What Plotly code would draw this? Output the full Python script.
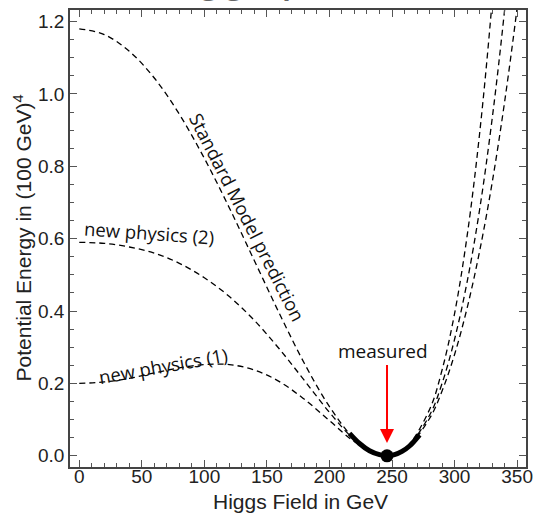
import plotly.graph_objects as go

# ---- data ----
sm_phi = [0, 20, 40, 60, 80, 100, 120, 140, 160, 180, 200, 220, 240, 246, 260, 280, 290, 300, 310, 320, 330, 340, 350, 357]
sm_V = [1.180, 1.164, 1.118, 1.044, 0.944, 0.822, 0.685, 0.539, 0.393, 0.255, 0.136, 0.047, 0.003, 0.0, 0.016, 0.103, 0.179, 0.280, 0.408, 0.565, 0.754, 0.978, 1.238, 1.443]

np2_phi = [0, 20, 40, 60, 80, 100, 120, 140, 160, 180, 200, 220, 240, 246, 260, 280, 290, 300, 310, 320, 330, 340, 350]
np2_V = [0.590, 0.587, 0.577, 0.560, 0.532, 0.492, 0.440, 0.374, 0.295, 0.208, 0.120, 0.045, 0.003, 0.0, 0.017, 0.112, 0.200, 0.322, 0.480, 0.680, 0.930, 1.232, 1.590]

np1_phi = [0, 20, 40, 60, 80, 100, 120, 140, 160, 180, 200, 220, 240, 246, 260, 280, 290, 300, 310, 320, 330, 340]
np1_V = [0.200, 0.204, 0.214, 0.229, 0.243, 0.252, 0.252, 0.237, 0.205, 0.156, 0.097, 0.039, 0.003, 0.0, 0.018, 0.128, 0.237, 0.393, 0.607, 0.890, 1.255, 1.717]

meas_phi = [216, 224, 232, 240, 246, 252, 258, 264, 272]
meas_V = [0.062, 0.034, 0.014, 0.003, 0.0, 0.003, 0.012, 0.027, 0.058]

vev_phi = [246]
vev_V = [0.0]

x_ticks = [0, 50, 100, 150, 200, 250, 300, 350]
y_ticks = [0.0, 0.2, 0.4, 0.6, 0.8, 1.0, 1.2]

AX_FONT = "Liberation Sans, Arial, sans-serif"
LBL_FONT = "Open Sans, Noto Sans, sans-serif"

fig = go.Figure()
dash_line = dict(color="black", width=1.3, dash="6px,4px", shape="spline")
for xs, ys in [(sm_phi, sm_V), (np2_phi, np2_V), (np1_phi, np1_V)]:
    fig.add_trace(go.Scatter(x=xs, y=ys, mode="lines", line=dash_line,
                             hoverinfo="skip", showlegend=False))

fig.add_trace(go.Scatter(x=meas_phi, y=meas_V, mode="lines",
                         line=dict(color="black", width=5, shape="spline"),
                         showlegend=False))
fig.add_trace(go.Scatter(x=vev_phi, y=vev_V, mode="markers",
                         marker=dict(color="black", size=13),
                         showlegend=False, cliponaxis=False))

axis_common = dict(
    showgrid=False, zeroline=False, showline=True, linecolor="#444", linewidth=1.5,
    mirror="ticks", ticks="inside", ticklen=7, tickwidth=1, tickcolor="#555",
    tickfont=dict(family=AX_FONT, size=19, color="#222"), automargin=False,
)

fig.update_xaxes(range=[-7.4, 357.1], tickvals=x_ticks, ticklabelstandoff=-9,
                 minor=dict(dtick=10, ticks="inside", ticklen=4, tickcolor="#555", tickwidth=1),
                 **axis_common)
fig.update_yaxes(range=[-0.031, 1.232], tickvals=y_ticks, tickformat=".1f",
                 minor=dict(dtick=0.05, ticks="inside", ticklen=4, tickcolor="#555", tickwidth=1),
                 **axis_common)

annots = [
    dict(text="Higgs potential", xref="paper", yref="paper", x=0.51, y=1,
         xanchor="center", yanchor="bottom", yshift=6, showarrow=False,
         font=dict(family=AX_FONT, size=45, color="#666")),
    dict(text="Standard Model prediction", x=134, y=0.66, textangle=63,
         font=dict(family=LBL_FONT, size=18.5, color="#111"), showarrow=False),
    dict(text="new physics (2)", x=56, y=0.617, textangle=4,
         font=dict(family=LBL_FONT, size=18.5, color="#111"), showarrow=False),
    dict(text="new physics (1)", x=67, y=0.25, textangle=-10,
         font=dict(family=LBL_FONT, size=18.5, color="#111"), showarrow=False),
    dict(text="measured", x=243, y=0.29,
         font=dict(family=LBL_FONT, size=19, color="#111"), showarrow=False),
    dict(text="", x=246, y=0.035, ax=246, ay=0.255, axref="x", ayref="y",
         showarrow=True, arrowcolor="red", arrowwidth=2, arrowhead=2, arrowsize=1.4),
    dict(text="Potential Energy in (100 GeV)<sup>4</sup>", xref="paper", yref="paper",
         x=0, y=0.5, xanchor="center", yanchor="middle", xshift=-48, textangle=-90,
         showarrow=False, font=dict(family=AX_FONT, size=21, color="#222")),
    dict(text="Higgs Field in GeV", xref="paper", yref="paper",
         x=0.505, y=0, xanchor="center", yanchor="middle", yshift=-34, showarrow=False,
         font=dict(family=AX_FONT, size=21, color="#222")),
]
fig.update_layout(
    width=534, height=518, autosize=False,
    margin=dict(l=70, r=8, t=10, b=51, autoexpand=False),
    paper_bgcolor="white", plot_bgcolor="white",
    annotations=annots, showlegend=False,
)

fig.write_html("out.html", config={"displayModeBar": False},
               post_script="document.body.style.margin='0';document.body.style.overflow='hidden';")
